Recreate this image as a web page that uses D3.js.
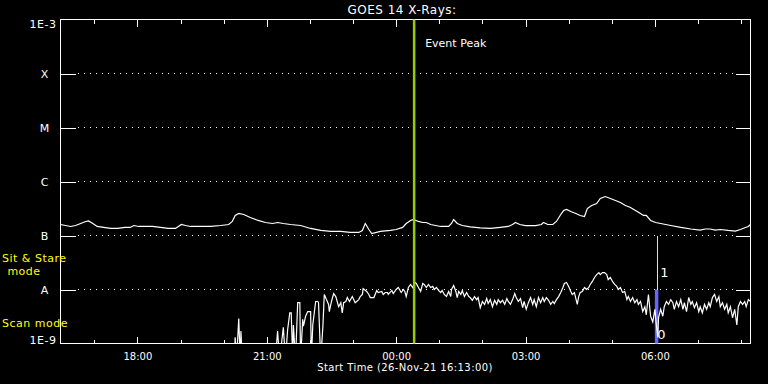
<!DOCTYPE html>
<html><head><meta charset="utf-8">
<script src="https://cdn.jsdelivr.net/npm/d3@7"></script>
<style>
html,body{margin:0;padding:0;background:#000;overflow:hidden;}
svg{display:block;}
text{font-family:"DejaVu Sans",sans-serif;}
</style>
</head><body>
<script>
// ---------- data ----------
const startTime = Date.UTC(2021, 10, 26, 16, 13, 0);   // 26-Nov-21 16:13:00
const durationHours = 16;
const chartTitle = "GOES 14 X-Rays:";
const xAxisTitle = "Start Time (26-Nov-21 16:13:00)";
const levelLabels = ["X", "M", "C", "B", "A"];
const levelFlux = [1e-4, 1e-5, 1e-6, 1e-7, 1e-8];
const edgeLabels = ["1E-3", "1E-9"];
const edgeFlux = [1e-3, 1e-9];
const eventPeakMin = 492;          // minutes after start (00:25)
const eventLabel = "Event Peak";
const modeSwitchMin = 829;         // minutes after start (06:02)
const modeLabels = ["Sit & Stare", "mode", "Scan mode"];
const modeValueLabels = ["1", "0"];

// long channel: [minutes after start, flux in 1e-7 W/m^2]
const longChannel = [
[0,1.60],[7,1.53],[14,1.47],[21,1.53],[28,1.67],[35,1.82],[39,1.86],[45,1.67],[51,1.47],[60,1.41],
[70,1.35],[79,1.35],[90,1.41],[97,1.41],[102,1.53],[109,1.47],[118,1.47],[128,1.47],[139,1.41],[150,1.35],
[160,1.35],[164,1.47],[168,1.60],[174,1.53],[181,1.47],[195,1.47],[209,1.47],[223,1.53],[234,1.60],[239,1.82],
[243,2.35],[248,2.56],[255,2.45],[264,2.15],[275,1.90],[285,1.74],[295,1.67],[302,1.74],[310,1.67],[320,1.60],
[334,1.53],[348,1.35],[362,1.24],[376,1.19],[390,1.19],[403,1.14],[415,1.14],[420,1.24],[424,1.67],[429,1.29],
[433,1.09],[445,1.19],[459,1.24],[467,1.29],[476,1.41],[481,1.67],[487,1.90],[491,1.98],[498,1.82],[504,1.74],
[509,1.74],[515,1.60],[529,1.47],[540,1.47],[544,1.67],[547,1.98],[552,1.67],[559,1.53],[570,1.44],[584,1.38],
[598,1.35],[612,1.41],[623,1.47],[629,1.60],[633,1.74],[639,1.60],[647,1.53],[661,1.53],[669,1.60],[672,1.74],
[678,1.60],[685,1.60],[690,1.82],[696,2.45],[700,2.90],[704,3.03],[710,2.78],[717,2.56],[723,2.35],[729,2.25],
[733,3.16],[739,3.59],[746,3.91],[751,4.84],[758,5.27],[765,4.84],[772,4.45],[779,4.08],[786,3.59],[793,3.30],
[800,2.90],[807,2.56],[811,2.35],[815,2.35],[821,1.90],[828,1.74],[835,1.67],[842,1.60],[849,1.53],[863,1.41],
[877,1.32],[890,1.26],[897,1.32],[904,1.32],[911,1.26],[918,1.29],[929,1.24],[939,1.21],[946,1.29],[953,1.41],
[957,1.47],[960,1.60]
];

// short channel: [minutes after start, flux in 1e-9 W/m^2]  (values < 1 are below the plot floor)
const shortChannel = [
[237,0.5],[242,0.5],[243,1.3],[245,0.5],[248,2.9],[250,0.5],[251,1.7],[253,0.5],[299,0.5],[302,1.7],
[305,0.5],[310,2.0],[313,0.5],[316,1.8],[319,3.7],[321,3.7],[323,0.5],[324,2.2],[327,0.5],[330,5.7],
[333,5.7],[334,0.5],[337,2.8],[338,2.1],[341,3.2],[344,3.9],[348,3.9],[349,0.5],[351,2.2],[355,6.0],
[358,6.0],[359,5.7],[362,0.5],[365,2.0],[367,8.1],[370,6.5],[373,5.3],[374,3.9],[377,6.0],[380,8.4],
[383,7.4],[387,4.8],[390,5.7],[392,3.7],[394,5.7],[397,6.0],[399,7.1],[402,6.0],[406,7.4],[410,5.7],
[415,6.5],[417,7.4],[420,8.1],[421,10.4],[426,9.2],[429,8.1],[431,7.1],[436,7.1],[440,9.6],[442,8.8],
[447,9.2],[449,8.1],[452,8.8],[455,8.8],[456,8.1],[461,9.6],[463,8.4],[467,10.0],[470,10.9],[474,8.8],
[477,10.0],[479,9.2],[481,7.4],[484,10.9],[487,12.4],[490,10.9],[493,13.5],[495,12.9],[498,10.9],[501,9.2],
[504,12.9],[506,12.4],[509,10.9],[512,12.4],[515,10.9],[518,11.4],[520,10.0],[523,10.9],[526,9.6],[529,8.8],
[531,9.6],[534,8.1],[537,7.4],[540,9.2],[543,7.4],[544,10.0],[547,11.9],[550,9.2],[552,7.1],[554,9.2],
[557,8.1],[559,9.6],[562,7.4],[565,8.8],[568,7.4],[570,7.1],[573,6.3],[576,7.4],[579,6.5],[581,7.1],
[584,4.6],[587,6.0],[590,5.3],[593,6.8],[595,5.5],[598,6.5],[601,4.8],[604,6.3],[607,5.3],[609,6.5],
[612,5.7],[615,6.3],[618,5.3],[621,6.8],[623,6.0],[626,5.3],[629,6.5],[632,8.4],[634,7.1],[637,6.0],
[640,6.8],[643,4.6],[645,6.0],[648,4.3],[651,5.7],[654,7.1],[657,5.3],[659,6.5],[662,4.8],[665,7.1],
[668,5.7],[671,7.1],[673,6.0],[676,7.1],[679,6.3],[682,5.3],[685,6.0],[687,5.5],[690,6.5],[693,7.4],
[696,8.8],[699,10.9],[701,12.9],[704,13.5],[707,11.4],[710,9.2],[712,8.1],[715,8.8],[719,5.3],[721,7.4],
[723,8.8],[726,9.2],[729,10.9],[732,10.0],[735,10.9],[737,12.4],[740,14.1],[743,16.7],[746,18.9],[749,20.6],
[751,18.9],[754,20.6],[757,20.6],[760,18.9],[762,15.3],[765,16.7],[768,14.1],[771,12.4],[774,11.4],[776,10.0],
[779,10.9],[782,8.8],[785,9.2],[788,6.5],[790,7.4],[793,6.0],[796,7.1],[799,5.7],[802,6.5],[804,5.3],
[807,6.0],[810,3.9],[813,4.8],[815,3.4],[818,8.1],[821,3.2],[824,2.5],[827,4.3],[829,2.2],[831,1.3],
[832,3.0],[835,4.3],[838,3.2],[840,4.8],[843,6.0],[846,5.3],[849,6.5],[852,5.7],[854,4.3],[857,6.0],
[860,4.8],[863,6.5],[866,4.3],[868,5.7],[871,3.9],[874,7.1],[877,5.3],[879,6.0],[882,4.6],[885,5.7],
[888,3.9],[890,4.8],[893,3.7],[896,5.3],[899,4.3],[902,5.7],[904,4.8],[907,7.1],[910,8.1],[913,6.0],
[916,7.4],[918,4.8],[921,5.7],[924,4.3],[927,5.3],[929,3.7],[932,4.8],[935,3.0],[938,4.3],[941,2.2],
[943,4.8],[946,6.0],[949,5.3],[952,6.0],[954,4.8],[957,6.5],[960,6.0]
];

// ---------- drawing ----------
const W = 768, H = 384;
const L = 60.5, R = 750.5, T = 19.5, B = 343.5;
const toDate = m => new Date(startTime + m * 60000);

const x = d3.scaleUtc().domain([toDate(0), toDate(durationHours * 60)]).range([L, R]);
const y = d3.scaleLog().domain([1e-9, 1e-3]).range([B, T]);

const svg = d3.select("body").append("svg").attr("width", W).attr("height", H)
  .style("background", "#000");

svg.append("defs").append("clipPath").attr("id", "clip")
  .append("rect").attr("x", L).attr("y", T).attr("width", R - L).attr("height", B - T);

// title
svg.append("text").attr("x", 402).attr("y", 14).attr("text-anchor", "middle")
  .attr("fill", "#fff").attr("font-size", 12).attr("letter-spacing", 0.5).text(chartTitle);

// dotted level grid
const grid = svg.append("g").attr("shape-rendering", "crispEdges");
grid.selectAll("line").data(levelFlux).join("line")
  .attr("x1", L + 17).attr("x2", R - 15)
  .attr("y1", d => y(d)).attr("y2", d => y(d))
  .attr("stroke", "#fff").attr("stroke-width", 1).attr("stroke-dasharray", "1,5");

// left axis (level ticks + labels)
const gl = svg.append("g").attr("transform", `translate(${L},0)`)
  .call(d3.axisLeft(y).tickValues(levelFlux).tickSize(-15).tickSizeOuter(0)
    .tickFormat((d, i) => levelLabels[i]));
gl.select(".domain").remove();
gl.selectAll("line").attr("stroke", "#fff").attr("shape-rendering", "crispEdges");
gl.selectAll("text").attr("x", -16).attr("dy", "0.38em").attr("text-anchor", "middle")
  .attr("fill", "#fff").attr("font-size", 11).attr("font-family", "DejaVu Sans");

const ge = svg.append("g").attr("transform", `translate(${L},0)`)
  .call(d3.axisLeft(y).tickValues(edgeFlux).tickSize(0).tickPadding(4)
    .tickFormat((d, i) => edgeLabels[i]));
ge.select(".domain").remove();
ge.selectAll("text").attr("fill", "#fff").attr("font-size", 11).attr("letter-spacing", 0.5)
  .attr("font-family", "DejaVu Sans")
  .attr("dy", (d, i) => i === 0 ? "0.72em" : "0em");

// right axis ticks
const gr = svg.append("g").attr("transform", `translate(${R},0)`)
  .call(d3.axisRight(y).tickValues(levelFlux).tickSize(-15).tickSizeOuter(0).tickFormat(""));
gr.select(".domain").remove();
gr.selectAll("line").attr("stroke", "#fff").attr("shape-rendering", "crispEdges");

// time axes: hourly minor ticks, 3-hourly labelled ticks
function timeAxis(gen, yPos, size, every, labels) {
  const g = svg.append("g").attr("transform", `translate(0,${yPos})`)
    .call(gen(x).ticks(d3.utcHour.every(every)).tickSize(size).tickSizeOuter(0)
      .tickPadding(9).tickFormat(labels ? d3.utcFormat("%H:%M") : ""));
  g.select(".domain").remove();
  g.selectAll("line").attr("stroke", "#fff").attr("shape-rendering", "crispEdges");
  g.selectAll("text").attr("fill", "#fff").attr("font-size", 10).attr("font-family", "DejaVu Sans");
  return g;
}
timeAxis(d3.axisBottom, B, -4, 1, false);
timeAxis(d3.axisBottom, B, -7, 3, true);
timeAxis(d3.axisTop, T, -4, 1, false);
timeAxis(d3.axisTop, T, -7, 3, false).selectAll("text").remove();

svg.append("text").attr("x", 405).attr("y", 371).attr("text-anchor", "middle")
  .attr("fill", "#fff").attr("font-size", 10).attr("letter-spacing", 0.4).text(xAxisTitle);

// frame
svg.append("rect").attr("x", L).attr("y", T).attr("width", R - L).attr("height", B - T)
  .attr("fill", "none").attr("stroke", "#fff").attr("stroke-width", 1)
  .attr("shape-rendering", "crispEdges");

// mode indicator
const xm = x(toDate(modeSwitchMin));
svg.append("rect").attr("x", xm - 1.5).attr("y", y(1e-8)).attr("width", 3.5)
  .attr("height", B - y(1e-8)).attr("fill", "#6666ff");
svg.append("line").attr("x1", xm + 1.5).attr("x2", xm + 1.5)
  .attr("y1", y(1e-7)).attr("y2", y(1e-8)).attr("stroke", "#ffff00").attr("stroke-width", 1)
  .attr("shape-rendering", "crispEdges");

// series
const data = svg.append("g").attr("clip-path", "url(#clip)");
data.append("path").datum(longChannel)
  .attr("d", d3.line().x(d => x(toDate(d[0]))).y(d => y(d[1] * 1e-7)))
  .attr("fill", "none").attr("stroke", "#fff").attr("stroke-width", 1.2);
data.append("path").datum(shortChannel)
  .attr("d", d3.line().x(d => x(toDate(d[0]))).y(d => y(d[1] * 1e-9)))
  .attr("fill", "none").attr("stroke", "#fff").attr("stroke-width", 1.2);

// event peak line
const xe = x(toDate(eventPeakMin));
svg.append("line").attr("x1", xe).attr("x2", xe).attr("y1", T).attr("y2", B)
  .attr("stroke", "#99cc00").attr("stroke-width", 2.5);
svg.append("text").attr("x", xe + 11).attr("y", 47).attr("fill", "#fff")
  .attr("font-size", 11).text(eventLabel);

// mode labels
const yellow = "#ffff00";
svg.append("text").attr("x", 2).attr("y", 262).attr("fill", yellow).attr("font-size", 11)
  .attr("letter-spacing", 0.5).text(modeLabels[0]);
svg.append("text").attr("x", 24).attr("y", 275).attr("text-anchor", "middle").attr("fill", yellow)
  .attr("font-size", 11).attr("letter-spacing", 0.5).text(modeLabels[1]);
svg.append("text").attr("x", 2).attr("y", 327).attr("fill", yellow).attr("font-size", 11)
  .attr("letter-spacing", 0.5).text(modeLabels[2]);
svg.append("text").attr("x", xm + 4).attr("y", 277).attr("fill", "#fff").attr("font-size", 13).text(modeValueLabels[0]);
svg.append("text").attr("x", xm + 1).attr("y", 339).attr("fill", "#fff").attr("font-size", 13).text(modeValueLabels[1]);
</script>
</body></html>
